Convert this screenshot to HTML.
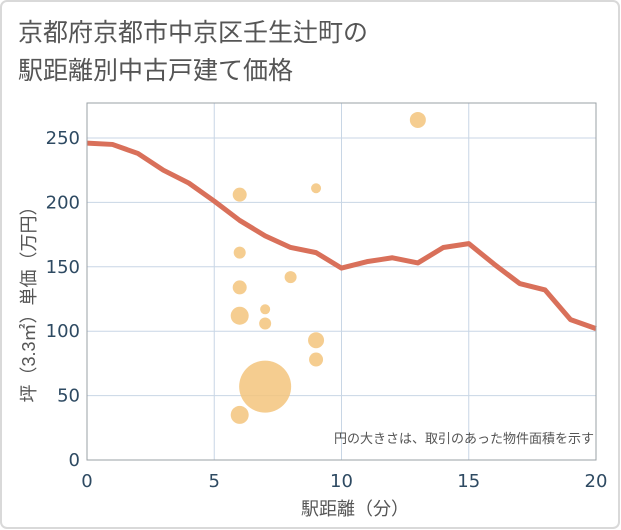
<!DOCTYPE html>
<html><head><meta charset="utf-8"><style>
html,body{margin:0;padding:0;background:#fff;}
svg{display:block;font-family:"Liberation Sans","Noto Sans CJK JP",sans-serif;}
</style></head><body>
<svg width="621" height="530">
<rect x="1" y="1" width="618" height="527" rx="6" fill="#fff" stroke="#d9d9d9" stroke-width="2"/>
<text x="18" y="41" font-size="25" fill="#555">京都府京都市中京区壬生辻町の</text>
<text x="18" y="79" font-size="25" fill="#555">駅距離別中古戸建て価格</text>
<g id="grid"></g>
<g id="line"></g>
<g id="bubbles"></g>
<rect x="87" y="103" width="509" height="357" fill="none" stroke="#9aa0a6" stroke-width="1"/>
<g id="ticks"></g>
<text x="355" y="515" font-size="18" fill="#555" text-anchor="middle">駅距離（分）</text>
<text transform="translate(35,300) rotate(-90)" font-size="18" fill="#555" text-anchor="middle">坪（3.3㎡）単価（万円）</text>
<text x="594" y="443" font-size="13" fill="#555" text-anchor="end">円の大きさは、取引のあった物件面積を示す</text>
</svg>
<script>
const xTicks=[0,5,10,15,20];
const yTicks=[0,50,100,150,200,250];
const lineX=[0,1,2,3,4,5,6,7,8,9,10,11,12,13,14,15,16,17,18,19,20];
const lineY=[246,245,238,225,215,201,186,174,165,161,149,154,157,153,165,168,152,137,132,109,102];
const bubX=[6,6,6,6,6,7,7,7,8,9,9,9,13];
const bubY=[206,161,134,112,35,117,106,57,142,211,93,78,264];
const bubR=[7,6,7,9,9,5,6,26,6,5,8,7,8];
const NS="http://www.w3.org/2000/svg";
const sx=v=>87+v*(509/20);
const sy=v=>460-v*1.288;
const grid=document.getElementById('grid'),ticks=document.getElementById('ticks');
xTicks.forEach(t=>{
  const l=document.createElementNS(NS,'line');
  
  
  l.setAttribute('x1',sx(t));l.setAttribute('x2',sx(t));l.setAttribute('y1',103);l.setAttribute('y2',460);
  l.setAttribute('stroke','#c8d6e5');grid.appendChild(l);
  const tx=document.createElementNS(NS,'text');
  
  
  tx.setAttribute('x',sx(t));tx.setAttribute('y',487);tx.setAttribute('text-anchor','middle');
  tx.setAttribute('font-family','DejaVu Sans, sans-serif');
  tx.setAttribute('font-size','18');tx.setAttribute('fill','#2e4a62');tx.textContent=t;ticks.appendChild(tx);
});
yTicks.forEach(t=>{
  const l=document.createElementNS(NS,'line');
  
  
  l.setAttribute('x1',87);l.setAttribute('x2',596);l.setAttribute('y1',sy(t));l.setAttribute('y2',sy(t));
  l.setAttribute('stroke','#c8d6e5');grid.appendChild(l);
  const tx=document.createElementNS(NS,'text');
  
  
  tx.setAttribute('x',80);tx.setAttribute('y',sy(t)+6);tx.setAttribute('text-anchor','end');
  tx.setAttribute('font-family','DejaVu Sans, sans-serif');
  tx.setAttribute('font-size','18');tx.setAttribute('fill','#2e4a62');tx.textContent=t;ticks.appendChild(tx);
});
const p=document.createElementNS(NS,'polyline');


p.setAttribute('points',lineX.map((x,i)=>sx(x)+','+sy(lineY[i])).join(' '));
p.setAttribute('fill','none');p.setAttribute('stroke','#d9705a');p.setAttribute('stroke-width','5');p.setAttribute('stroke-linejoin','round');
document.getElementById('line').appendChild(p);
const bg=document.getElementById('bubbles');
bubX.forEach((x,i)=>{
  const c=document.createElementNS(NS,'circle');
  
  
  c.setAttribute('cx',sx(x));c.setAttribute('cy',sy(bubY[i]));c.setAttribute('r',bubR[i]);
  c.setAttribute('fill','#f3c47d');c.setAttribute('fill-opacity','0.85');bg.appendChild(c);
});
</script>
</body></html>
